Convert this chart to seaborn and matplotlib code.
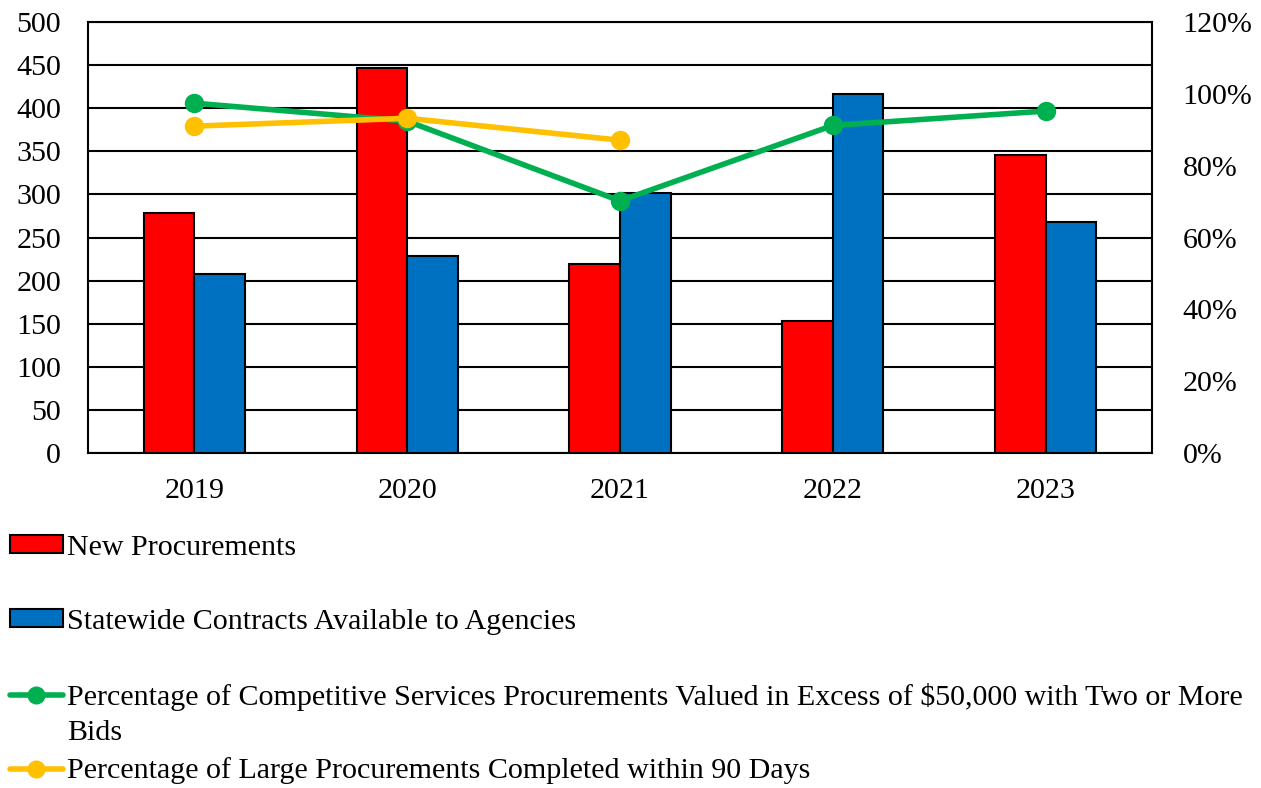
import numpy as np
import pandas as pd
import matplotlib
matplotlib.use("Agg")
import matplotlib.pyplot as plt
from matplotlib.patches import Patch
from matplotlib.lines import Line2D
from matplotlib.ticker import FuncFormatter, MultipleLocator
import seaborn as sns

years = ["2019", "2020", "2021", "2022", "2023"]
new_procurements = [278, 447, 219, 153, 346]
statewide_contracts = [208, 229, 302, 416, 268]
competitive_pct = [97.4, 92.4, 70.2, 91.2, 95.2]
large_within_90 = [91.0, 93.2, 87.1, np.nan, np.nan]

bar_names = ["New Procurements", "Statewide Contracts Available to Agencies"]
line_names = [
    "Percentage of Competitive Services Procurements Valued in Excess of $50,000 with Two or More",
    "Percentage of Large Procurements Completed within 90 Days",
]
bar_colors = ["#FF0000", "#0070C0"]
line_colors = ["#00B050", "#FFC000"]

sns.set_theme(style="white")
plt.rcParams["font.family"] = ["Liberation Serif", "DejaVu Serif"]
plt.rcParams["text.color"] = "black"
FS = 21.6

bars = pd.DataFrame({
    "year": years * 2,
    "value": new_procurements + statewide_contracts,
    "series": [bar_names[0]] * 5 + [bar_names[1]] * 5,
})

fig = plt.figure(figsize=(12.61, 7.88), dpi=100)
W, H = 1261, 788
ax = fig.add_axes([88 / W, 1 - 453 / H, (1152 - 88) / W, (453 - 22) / H])

sns.barplot(data=bars, x="year", y="value", hue="series", palette=bar_colors,
            width=0.476, edgecolor="black", linewidth=1.5, ax=ax, legend=False,
            zorder=3, saturation=1)
ax.set_xlim(-0.5, 4.5)
ax.set_ylim(0, 500)
ax.yaxis.set_major_locator(MultipleLocator(50))
ax.grid(axis="y", color="black", linewidth=1.5, zorder=0)
ax.set_axisbelow(True)
ax.set_xlabel("")
ax.set_ylabel("")
for side in ["left", "right", "top", "bottom"]:
    ax.spines[side].set_color("black")
    ax.spines[side].set_linewidth(1.5)
ax.tick_params(axis="both", length=0, labelsize=FS, colors="black")
ax.tick_params(axis="y", pad=19.5)
ax.tick_params(axis="x", pad=18)

ax2 = ax.twinx()
x_pos = np.arange(len(years))
for vals, col in zip([competitive_pct, large_within_90], line_colors):
    sns.lineplot(x=x_pos, y=vals, ax=ax2, color=col, linewidth=4,
                 marker="o", markersize=14, markeredgewidth=0, zorder=4)
ax2.set_ylim(0, 120)
ax2.yaxis.set_major_locator(MultipleLocator(20))
ax2.yaxis.set_major_formatter(FuncFormatter(lambda v, p: f"{v:.0f}%"))
ax2.tick_params(axis="y", length=0, labelsize=FS, colors="black", pad=22)
ax2.set_ylabel("")
ax2.grid(False)
for side in ["left", "right", "top", "bottom"]:
    ax2.spines[side].set_visible(False)

# legend entries below the plot
handles = [
    Patch(facecolor=bar_colors[0], edgecolor="black", linewidth=1.5),
    Patch(facecolor=bar_colors[1], edgecolor="black", linewidth=1.5),
    Line2D([0], [0], color=line_colors[0], linewidth=4, marker="o", markersize=12),
    Line2D([0], [0], color=line_colors[1], linewidth=4, marker="o", markersize=12),
]
labels = bar_names + line_names
ys = [548, 622, 697, 771]
for h, lab, y in zip(handles, labels, ys):
    fig.legend(handles=[h], labels=[lab], loc="center left",
               bbox_to_anchor=(10 / W, 1 - y / H), frameon=False,
               fontsize=FS, borderpad=0, borderaxespad=0, labelcolor="black",
               handlelength=1.75, handleheight=0.55, handletextpad=0.15)
fig.text(67 / W, 1 - 733 / H, "Bids", fontsize=FS, va="center", ha="left",
         color="black")

fig.savefig("out.png", dpi=100)
